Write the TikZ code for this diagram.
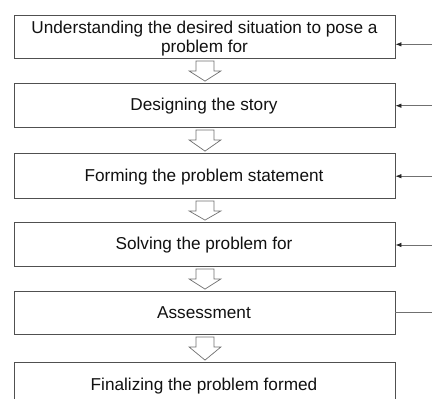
\documentclass[tikz,border=0pt]{standalone}
\usepackage{fontspec}
\setmainfont{Liberation Sans}
\usetikzlibrary{arrows.meta,calc}
\definecolor{boxline}{HTML}{505050}
\definecolor{txt}{HTML}{111111}
\definecolor{fbline}{HTML}{707070}
\tikzset{
  stagebox/.style={draw=boxline, line width=0.8pt, fill=white, rectangle,
    minimum width=381pt, inner sep=0pt},
  lbl/.style={text=txt, font=\fontsize{17.2}{18.6}\selectfont, inner sep=0pt, anchor=base, align=center},
  fbarrow/.style={draw=fbline, line width=0.8pt, -{Latex[length=6pt,width=4.5pt,color=black!85]}},
  fbline/.style={draw=fbline, line width=0.8pt},
  hollow/.style={draw=fbline, line width=0.7pt, fill=white, line join=miter},
}
\begin{document}
\begin{tikzpicture}[x=1pt,y=-1pt]
\useasboundingbox (0,0) rectangle (432,399);
\clip (0,0) rectangle (432,399);
% boxes
\node[stagebox, minimum height=43pt] (b1) at (204.5,36.5) {};
\node[stagebox, minimum height=44pt] (b2) at (204.5,105) {};
\node[stagebox, minimum height=45pt] (b3) at (204.5,175.5) {};
\node[stagebox, minimum height=44pt] (b4) at (204.5,244) {};
\node[stagebox, minimum height=43pt] (b5) at (204.5,312.5) {};
\node[stagebox, minimum height=45pt] (b6) at (204.5,384.5) {};
% labels
\node[lbl] (t1a) at (204.5,33.7) {Understanding the desired situation to pose a};
\node[lbl] (t1b) at (204.5,52.3) {problem for};
\node[lbl] (t2) at (204,110.8) {Designing the story};
\node[lbl] (t3) at (204,181.3) {Forming the problem statement};
\node[lbl] (t4) at (204,249.8) {Solving the problem for};
\node[lbl] (t5) at (204,318.3) {Assessment};
\node[lbl] (t6) at (204,390.3) {Finalizing the problem formed};
% hollow down arrows between boxes
\foreach \a/\b in {b1/b2,b2/b3,b3/b4,b4/b5,b5/b6}{
  \path (\a.south) ++(0.5,0) coordinate (s) (\b.north) ++(0.5,0) coordinate (e);
  \draw[hollow] ($(s)+(-9,2.5)$) -- ($(s)+(9,2.5)$) -- ($(s)+(9,12.5)$)
    -- ($(s)+(16,12.5)$) -- ($(e)+(0,-1.5)$) -- ($(s)+(-16,12.5)$)
    -- ($(s)+(-9,12.5)$) -- cycle;
}
% feedback arrows on the right
\coordinate (r1) at (432,44.3);
\coordinate (r2) at (432,105.7);
\coordinate (r3) at (432,176.2);
\coordinate (r4) at (432,245);
\coordinate (r5) at (432,312);
\draw[fbarrow] (r1) -- (r1 -| b1.east);
\draw[fbarrow] (r2) -- (r2 -| b2.east);
\draw[fbarrow] (r3) -- (r3 -| b3.east);
\draw[fbarrow] (r4) -- (r4 -| b4.east);
\draw[fbline] (r5) -- (r5 -| b5.east);
\end{tikzpicture}
\end{document}
